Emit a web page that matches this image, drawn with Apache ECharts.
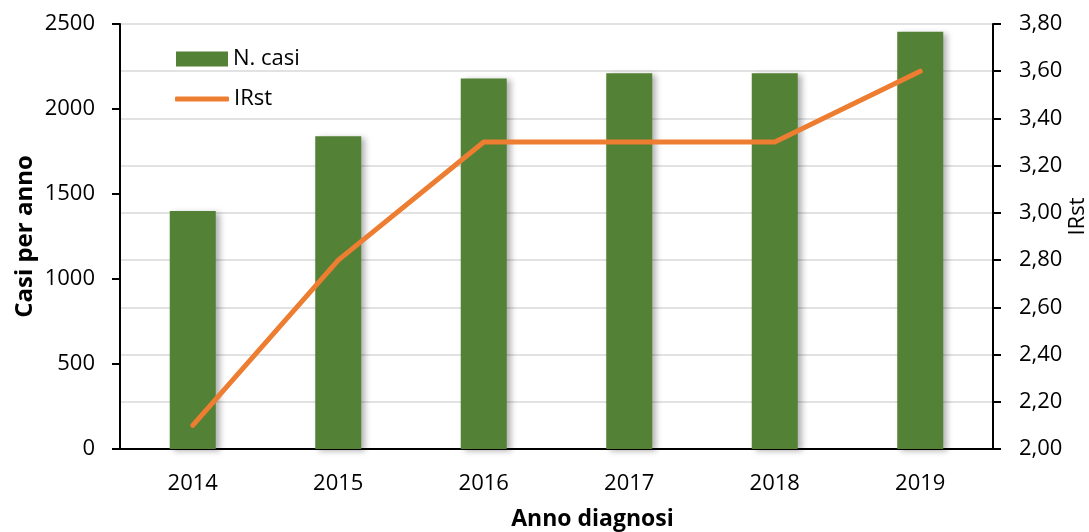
<!DOCTYPE html>
<html>
<head>
<meta charset="utf-8">
<script src="https://cdn.jsdelivr.net/npm/echarts@6/dist/echarts.min.js"></script>
<style>
  html, body { margin: 0; padding: 0; background: #fff; }
  #chart { width: 1089px; height: 532px; }
</style>
</head>
<body>
<div id="chart"></div>
<script>
// Dati
const anni = ['2014', '2015', '2016', '2017', '2018', '2019'];
const nCasi = [1400, 1840, 2180, 2210, 2210, 2455];
const irst = [2.10, 2.80, 3.30, 3.30, 3.30, 3.60];

const font = '"Open Sans", "Noto Sans", sans-serif';
const nero = '#000';

let chart = echarts.init(document.getElementById('chart'));

let option = {
    animation: false,
    textStyle: { fontFamily: font },
    grid: { left: 120, right: 96, top: 24, bottom: 83, outerBoundsMode: 'none' },
    legend: [
        {
            left: 171,
            top: 43,
            itemWidth: 52,
            itemHeight: 15,
            textStyle: { fontSize: 22, color: nero, fontFamily: font },
            data: [{ name: 'N. casi', icon: 'rect' }]
        },
        {
            left: 170,
            top: 83,
            itemWidth: 54,
            itemHeight: 5,
            textStyle: { fontSize: 22, color: nero, fontFamily: font },
            data: [{ name: 'IRst', icon: 'roundRect' }]
        }
    ],
    xAxis: {
        type: 'category',
        data: anni,
        name: 'Anno diagnosi',
        nameLocation: 'middle',
        nameGap: 59,
        nameMoveOverlap: false,
        nameTextStyle: { fontSize: 23, fontWeight: 'bold', color: nero, fontFamily: font, padding: [0, 0, 0, 72] },
        axisLine: { lineStyle: { color: nero, width: 2 } },
        axisTick: { length: 7, lineStyle: { color: nero, width: 2 } },
        axisLabel: { fontSize: 22, color: nero, margin: 24, fontFamily: font }
    },
    yAxis: [
        {
            type: 'value',
            min: 0,
            max: 2500,
            interval: 500,
            name: 'Casi per anno',
            nameLocation: 'middle',
            nameRotate: 90,
            nameGap: 83,
            nameMoveOverlap: false,
            nameTextStyle: { fontSize: 24, fontWeight: 'bold', color: nero, fontFamily: font },
            axisLine: { show: true, lineStyle: { color: nero, width: 2 } },
            axisTick: { show: true, length: 8, lineStyle: { color: nero, width: 2 } },
            axisLabel: { fontSize: 22, color: nero, margin: 25, fontFamily: font, formatter: v => String(v) },
            splitLine: { show: false }
        },
        {
            type: 'value',
            position: 'right',
            min: 2,
            max: 3.8,
            interval: 0.2,
            name: 'IRst',
            nameLocation: 'middle',
            nameRotate: 90,
            nameGap: 74,
            nameMoveOverlap: false,
            nameTextStyle: { fontSize: 22, color: nero, fontFamily: font, padding: [0, 0, 0, 40] },
            axisLine: { show: true, lineStyle: { color: nero, width: 2 } },
            axisTick: { show: true, length: 8, lineStyle: { color: nero, width: 2 } },
            axisLabel: {
                fontSize: 22, color: nero, margin: 26, fontFamily: font,
                formatter: v => v.toFixed(2).replace('.', ',')
            },
            splitLine: { show: true, lineStyle: { color: '#d9d9d9', width: 1.5 } }
        }
    ],
    series: [
        {
            name: 'N. casi',
            type: 'bar',
            yAxisIndex: 0,
            data: nCasi,
            barWidth: 46,
            itemStyle: {
                color: '#538135',
                shadowColor: 'rgba(0,0,0,0.3)',
                shadowBlur: 6,
                shadowOffsetX: 4,
                shadowOffsetY: 2
            },
            z: 2
        },
        {
            name: 'IRst',
            type: 'line',
            yAxisIndex: 1,
            data: irst,
            symbol: 'none',
            lineStyle: { color: '#ED7D31', width: 5, cap: 'round', join: 'round' },
            itemStyle: { color: '#ED7D31' },
            z: 3
        }
    ]
};

chart.setOption(option);
</script>
</body>
</html>
